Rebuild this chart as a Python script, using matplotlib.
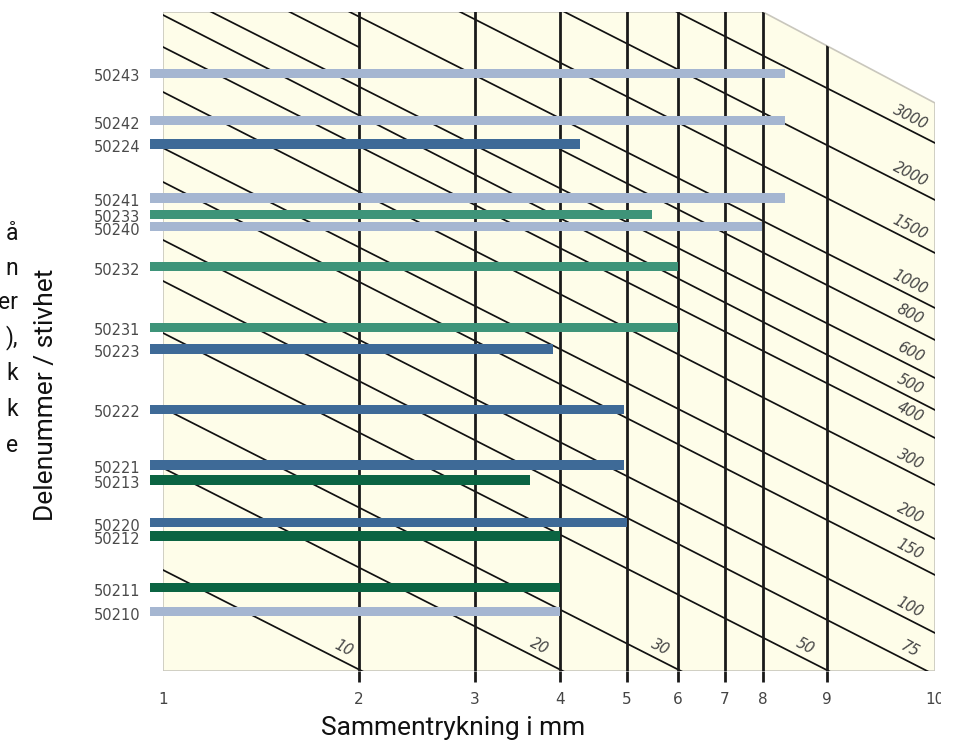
"""Spring selection nomogram: compression (mm) vs part number / stiffness."""

import numpy as np
import matplotlib
matplotlib.use("Agg")
import matplotlib.pyplot as plt
from matplotlib.patches import Polygon, Rectangle

# ---- axis: compression in mm, drawn on the chart's own (distorted log) ruler
TICK_MM = [1, 2, 3, 4, 5, 6, 7, 8, 9, 10]
TICK_POS = [163, 359, 475, 560, 627, 678, 725, 763, 827, 935]

# ---- parts (bars) -----------------------------------------------------------
PARTS = ["50243", "50242", "50224", "50241", "50233", "50240", "50232", "50231",
         "50223", "50222", "50221", "50213", "50220", "50212", "50211", "50210"]
PART_ROW = [73.3, 120.7, 144.0, 198.0, 214.3, 226.7, 266.7, 327.3,
            349.0, 409.3, 465.0, 480.0, 522.7, 536.0, 587.7, 611.7]
MAX_COMPRESSION = [8.35, 8.35, 4.30, 8.35, 5.50, 7.97, 6.00, 6.00,
                   3.92, 4.95, 4.95, 3.65, 5.00, 4.00, 4.00, 4.00]
PART_GROUP = ["light", "light", "blue", "light", "teal", "light", "teal", "teal",
              "blue", "blue", "blue", "green", "blue", "green", "green", "light"]
BAR_START = 0.933

# ---- constant-force guide lines (row value at x = 1 mm and x = 10 mm) -------
FORCE = ["10", "20", "30", "50", "75", "100", "150", "200", "300", "400",
         "500", "600", "800", "1000", "1500", "2000", "3000"]
FORCE_ROW_AT_1 = [570, 468, 408, 333, 281, 240, 182, 148, 92, 47,
                  15, -12.5, -52.5, -82.5, -139, -192, -249]
FORCE_ROW_AT_10 = [962, 860, 800, 725, 675, 633, 575, 539, 485, 438,
                   410, 378, 340, 308, 253, 200, 143]
# stretch (mm) where a line is left out of the chart
FORCE_GAP = [None, None, None, None, None, None, None, None, None, None,
             None, None, (2, 4), None, None, None, None]
FORCE_LABEL_MM = [1.92, 3.76, 5.65, 8.66, 9.77, 9.77, 9.77, 9.77, 9.77, 9.77,
                  9.77, 9.77, 9.77, 9.77, 9.77, 9.77, 9.77]

# chart outline (top right corner is cut off)
FRAME_MM = [1, 8, 10, 10, 1]
FRAME_ROW = [12, 12, 103, 671, 671]
GRID_MM = [2, 3, 4, 5, 6, 7, 8, 9]

COLORS = {"light": "#a5b6d1", "blue": "#3e6a97", "teal": "#3e9479",
          "green": "#0b6442"}
CREAM = "#fefde9"

# clipped text that sits at the very left edge of the source page
EDGE_TEXT = ["å", "n", "er", "),", "k", "k", "e"]
EDGE_ROW = [233, 268, 303, 338, 374, 410, 445]


def _piecewise(src, dst):
    src = np.asarray(src, float)
    dst = np.asarray(dst, float)

    def f(v):
        v = np.asarray(v, dtype=float)
        flat = v.ravel()
        out = np.interp(flat, src, dst)
        lo = flat < src[0]
        hi = flat > src[-1]
        out[lo] = dst[0] + (flat[lo] - src[0]) * (dst[1] - dst[0]) / (src[1] - src[0])
        out[hi] = dst[-1] + (flat[hi] - src[-1]) * (dst[-1] - dst[-2]) / (src[-1] - src[-2])
        return out.reshape(v.shape)
    return f


fwd = _piecewise(TICK_MM, TICK_POS)
inv = _piecewise(TICK_POS, TICK_MM)
p1, p10 = fwd(1.0), fwd(10.0)


def row_on_line(x, y1, y10):
    # guide lines are straight on the drawing, so interpolate on the ruler
    return y1 + (y10 - y1) * (fwd(x) - p1) / (p10 - p1)


W, H = 973, 742
fig = plt.figure(figsize=(W / 100, H / 100), dpi=100)
ax = fig.add_axes([163 / W, (H - 671) / H, (935 - 163) / W, 659 / H])
ax.set_xscale("function", functions=(fwd, inv))
ax.set_xlim(1, 10)
ax.set_ylim(671, 12)
ax.set_facecolor("none")
for s in ax.spines.values():
    s.set_visible(False)

frame = Polygon(np.column_stack([FRAME_MM, FRAME_ROW]), closed=True,
                facecolor=CREAM, edgecolor="#c9c7bd", lw=1.2, zorder=0)
ax.add_patch(frame)

# vertical grid lines
vl = ax.vlines(GRID_MM, 0, 680, colors="#1a1a1a", lw=2.0, zorder=2)
vl.set_clip_path(frame)

# force lines
for y1, y10, gap in zip(FORCE_ROW_AT_1, FORCE_ROW_AT_10, FORCE_GAP):
    spans = [(1, 10)] if gap is None else [(1, gap[0]), (gap[1], 10)]
    for a, b in spans:
        ln, = ax.plot([a, b], [row_on_line(a, y1, y10), row_on_line(b, y1, y10)],
                      color="#111111", lw=1.25, zorder=1)
        ln.set_clip_path(frame)

# force labels, written along the lines
for lab, x, y1, y10 in zip(FORCE, FORCE_LABEL_MM, FORCE_ROW_AT_1, FORCE_ROW_AT_10):
    d0 = ax.transData.transform((1, y1))
    d1 = ax.transData.transform((10, y10))
    ang = np.degrees(np.arctan2(d1[1] - d0[1], d1[0] - d0[0]))
    ax.annotate(lab, xy=(x, row_on_line(x, y1, y10)), xytext=(0, 9.5),
                textcoords="offset points", rotation=ang, rotation_mode="anchor",
                ha="center", va="center", fontsize=10.5, fontstyle="italic",
                color="#454545", zorder=4)

# bars
widths = np.asarray(MAX_COMPRESSION) - BAR_START
ax.barh(PART_ROW, widths, left=BAR_START, height=9.5,
        color=[COLORS[g] for g in PART_GROUP], clip_on=False, zorder=3)

# ticks
ax.set_xticks(TICK_MM, [str(t) for t in TICK_MM])
ax.tick_params(axis="x", length=8, width=2.0, color="#1a1a1a", pad=7,
               labelsize=11, labelcolor="#444444")
xt = ax.xaxis.get_major_ticks()
xt[0].tick1line.set_visible(False)
xt[-1].tick1line.set_visible(False)
ax.set_yticks([r + 2 for r in PART_ROW], PARTS)
ax.tick_params(axis="y", length=0, pad=16.5, labelsize=10.5, labelcolor="#4a4a4a")

fig.text(453 / W, 1 - 728 / H, "Sammentrykning i mm", ha="center", va="center",
         fontsize=19, family="Roboto", color="#111111")
fig.text(46 / W, 1 - 395 / H, "Delenummer / stivhet", ha="center", va="center",
         rotation=90, fontsize=19, family="Roboto", color="#111111")
for t, r in zip(EDGE_TEXT, EDGE_ROW):
    fig.text(18 / W, 1 - r / H, t, ha="right", va="center", fontsize=16.5,
             family="Roboto", color="#111111")

# the source page is cropped just right of the last tick label
fig.patches.append(Rectangle((941 / W, 0), 1, 1, transform=fig.transFigure,
                             facecolor="white", edgecolor="none", zorder=10))

fig.savefig("out.png", dpi=100, facecolor="white")
